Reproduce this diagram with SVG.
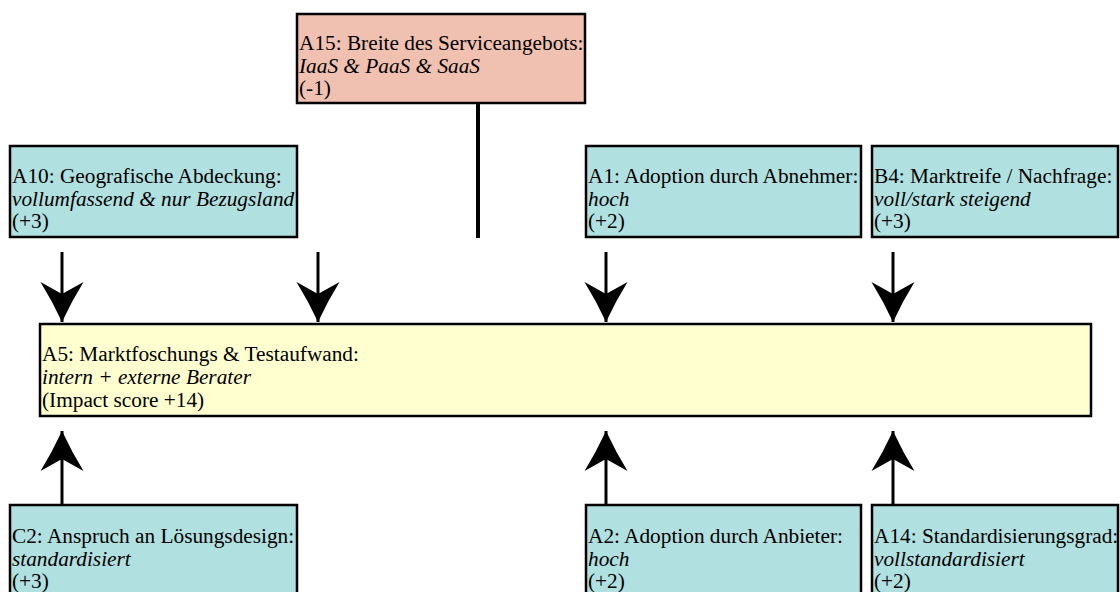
<svg xmlns="http://www.w3.org/2000/svg" width="1120" height="592" viewBox="0 0 1120 592">
  <style>
    .box { stroke: #000; stroke-width: 2.5; }
    .attr { fill: #b0e0e0; }
    .src { fill: #f0c0b0; }
    .hub { fill: #ffffd0; }
    text { font-family: "Liberation Serif", "Times New Roman", serif; font-size: 21.3px; fill: #000; }
    .val { font-style: italic; }
    .link { stroke: #000; stroke-width: 3; fill: none; }
    .bar { stroke: #000; stroke-width: 4; fill: none; }
  </style>
  <defs>
    <!-- notched arrowhead, tip at the line end -->
    <marker id="head" markerUnits="userSpaceOnUse" markerWidth="46" markerHeight="46" viewBox="-44 -23 46 46" refX="0" refY="0" orient="auto">
      <path d="M0,0 Q-21,-9.8 -40,-21.5 L-28,0 L-40,21.5 Q-21,9.8 0,0 Z" fill="#000"/>
    </marker>
  </defs>

  <rect width="1120" height="592" fill="#fff"/>

  <!-- connectors -->
  <g id="connectors">
    <line class="bar" x1="478" y1="103" x2="478" y2="238"/>
    <!-- incoming from above -->
    <line class="link" x1="62" y1="252" x2="62" y2="322" marker-end="url(#head)"/>
    <line class="link" x1="318" y1="252" x2="318" y2="322" marker-end="url(#head)"/>
    <line class="link" x1="606" y1="252" x2="606" y2="322" marker-end="url(#head)"/>
    <line class="link" x1="893" y1="252" x2="893" y2="322" marker-end="url(#head)"/>
    <!-- incoming from below -->
    <line class="link" x1="62" y1="505" x2="62" y2="431" marker-end="url(#head)"/>
    <line class="link" x1="606" y1="505" x2="606" y2="431" marker-end="url(#head)"/>
    <line class="link" x1="893" y1="505" x2="893" y2="431" marker-end="url(#head)"/>
  </g>

  <g id="A15">
    <rect class="box src" x="297" y="14" width="288" height="89"/>
    <text x="299" y="50">A15: Breite des Serviceangebots:</text>
    <text class="val" x="299" y="73">IaaS &amp; PaaS &amp; SaaS</text>
    <text x="299" y="95">(-1)</text>
  </g>

  <g id="A10">
    <rect class="box attr" x="10" y="146" width="287" height="91"/>
    <text x="12" y="183">A10: Geografische Abdeckung:</text>
    <text class="val" x="12" y="205.5">vollumfassend &amp; nur Bezugsland</text>
    <text x="12" y="228">(+3)</text>
  </g>

  <g id="A1">
    <rect class="box attr" x="586" y="146" width="275" height="91"/>
    <text x="588" y="183">A1: Adoption durch Abnehmer:</text>
    <text class="val" x="588" y="205.5">hoch</text>
    <text x="588" y="228">(+2)</text>
  </g>

  <g id="B4">
    <rect class="box attr" x="872" y="146" width="246" height="91"/>
    <text x="874" y="183">B4: Marktreife / Nachfrage:</text>
    <text class="val" x="874" y="205.5">voll/stark steigend</text>
    <text x="874" y="228">(+3)</text>
  </g>

  <g id="A5">
    <rect class="box hub" x="40" y="324" width="1051" height="92"/>
    <text x="42" y="361">A5: Marktfoschungs &amp; Testaufwand:</text>
    <text class="val" x="42" y="384">intern + externe Berater</text>
    <text x="42" y="407">(Impact score +14)</text>
  </g>

  <g id="C2">
    <rect class="box attr" x="10" y="505" width="287" height="91"/>
    <text x="12" y="543">C2: Anspruch an Lösungsdesign:</text>
    <text class="val" x="12" y="565.5">standardisiert</text>
    <text x="12" y="588">(+3)</text>
  </g>

  <g id="A2">
    <rect class="box attr" x="586" y="505" width="275" height="91"/>
    <text x="588" y="543">A2: Adoption durch Anbieter:</text>
    <text class="val" x="588" y="565.5">hoch</text>
    <text x="588" y="588">(+2)</text>
  </g>

  <g id="A14">
    <rect class="box attr" x="872" y="505" width="246" height="91"/>
    <text x="874" y="543">A14: Standardisierungsgrad:</text>
    <text class="val" x="874" y="565.5">vollstandardisiert</text>
    <text x="874" y="588">(+2)</text>
  </g>
</svg>
